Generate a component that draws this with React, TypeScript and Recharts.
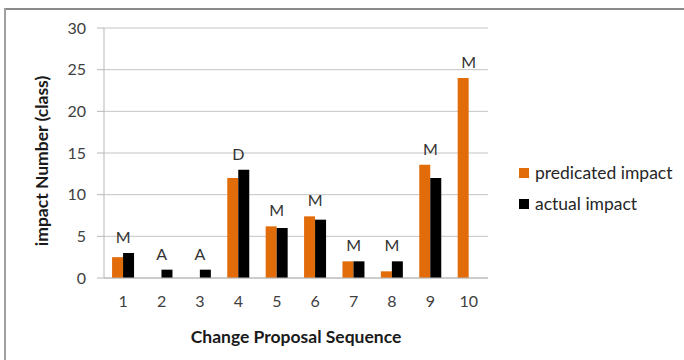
import {
  ComposedChart,
  Bar,
  Line,
  XAxis,
  YAxis,
  CartesianGrid,
  Legend,
  LabelList,
} from "recharts";

const categories = ["1", "2", "3", "4", "5", "6", "7", "8", "9", "10"];
const predicated = [2.5, 0, 0, 12, 6.2, 7.4, 2, 0.8, 13.6, 24];
const actual = [3, 1, 1, 13, 6, 7, 2, 2, 12, 0];
const tags = ["M", "A", "A", "D", "M", "M", "M", "M", "M", "M"];
const yTicks = [0, 5, 10, 15, 20, 25, 30];
const seriesNames = ["predicated impact", "actual impact"];
const seriesColors = ["#E36C0A", "#000000"];

const data = categories.map((c, i) => ({
  seq: c,
  predicated: predicated[i],
  actual: actual[i],
  tag: tags[i],
  top: Math.max(predicated[i], actual[i]),
}));

const FONT = "Lato, 'Open Sans', sans-serif";

// legend drawn in series order, not the order recharts hands back
const LegendBox = () => (
  <div style={{ fontFamily: FONT, fontSize: 17.5, color: "#262626" }}>
    {seriesNames.map((name, i) => (
      <div
        key={name}
        style={{ display: "flex", alignItems: "center", height: 31 }}
      >
        <span
          style={{
            width: 10,
            height: 10,
            background: seriesColors[i],
            marginRight: 6,
            display: "inline-block",
          }}
        />
        {name}
      </div>
    ))}
  </div>
);

const YTitle = ({ viewBox }: any) => {
  const cx = 48;
  const cy = viewBox.y + viewBox.height / 2 + 8;
  return (
    <text
      x={cx}
      y={cy}
      transform={`rotate(-90, ${cx}, ${cy})`}
      textAnchor="middle"
      fontFamily={FONT}
      fontWeight="bold"
      fontSize={17.5}
      fill="#1a1a1a"
    >
      impact Number (class)
    </text>
  );
};

export default function App() {
  return (
    <div
      style={{
        position: "absolute",
        left: 0,
        top: 0,
        width: 684,
        height: 360,
        background: "#fff",
      }}
    >
      <div
        style={{
          position: "absolute",
          left: 4,
          right: 0,
          top: 8,
          height: 2,
          background: "#8a8a8a",
        }}
      />
      <div
        style={{
          position: "absolute",
          left: 4,
          top: 8,
          bottom: 0,
          width: 2,
          background: "#a0a0a0",
        }}
      />
      <ComposedChart
        width={684}
        height={360}
        data={data}
        margin={{ top: 28, right: 196, bottom: 12, left: 0 }}
        barCategoryGap="21%"
        barGap={0}
        style={{ fontFamily: FONT }}
      >
        <CartesianGrid vertical={false} stroke="#c4c4c4" />
        <XAxis
          dataKey="seq"
          height={70}
          tickLine={false}
          tickSize={0}
          tickMargin={18}
          axisLine={{ stroke: "#b8b8b8" }}
          tick={{ fontSize: 16, fill: "#404040", fontFamily: FONT }}
          label={{
            value: "Change Proposal Sequence",
            position: "insideBottom",
            offset: 5,
            fontSize: 17.5,
            fontWeight: "bold",
            fill: "#1a1a1a",
            fontFamily: FONT,
          }}
        />
        <YAxis
          width={104}
          domain={[0, 30]}
          ticks={yTicks}
          interval={0}
          tickSize={7}
          tickMargin={11}
          tickLine={{ stroke: "#b8b8b8" }}
          axisLine={{ stroke: "#b8b8b8" }}
          tick={{ fontSize: 16, fill: "#404040", fontFamily: FONT }}
          label={{ content: YTitle }}
        />
        <Legend
          layout="horizontal"
          verticalAlign="middle"
          align="center"
          content={LegendBox}
          wrapperStyle={{ left: 519, top: 157, width: 165 }}
        />
        <Bar
          dataKey="predicated"
          name={seriesNames[0]}
          fill={seriesColors[0]}
          isAnimationActive={false}
        />
        <Bar
          dataKey="actual"
          name={seriesNames[1]}
          fill={seriesColors[1]}
          isAnimationActive={false}
        />
        <Line
          dataKey="top"
          stroke="none"
          dot={false}
          activeDot={false}
          legendType="none"
          isAnimationActive={false}
        >
          <LabelList
            dataKey="tag"
            position="top"
            offset={10}
            fontSize={16}
            fill="#333"
            fontFamily={FONT}
          />
        </Line>
      </ComposedChart>
    </div>
  );
}
